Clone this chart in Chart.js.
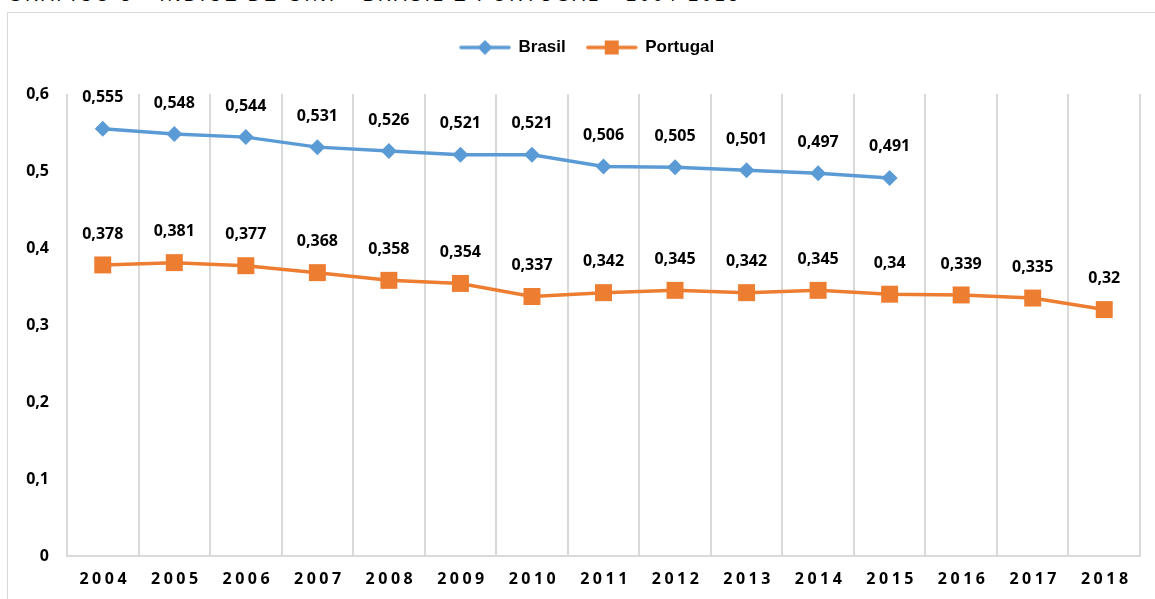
<!DOCTYPE html>
<html>
<head>
<meta charset="utf-8">
<script src="https://cdn.jsdelivr.net/npm/chart.js@4.4.1/dist/chart.umd.min.js"></script>
<style>
  html, body { margin: 0; padding: 0; background: #ffffff; overflow: hidden; }
  #wrap { position: relative; width: 1155px; height: 599px; overflow: hidden; background: #fff; }
  #title { position: absolute; left: 8px; top: -15px; line-height: 20px; font: 18px "Liberation Sans", Arial, sans-serif; letter-spacing: 3.2px; color: #000; white-space: nowrap; }
  #frame { position: absolute; left: 7px; top: 12px; width: 1300px; height: 800px; border: 1.5px solid #d9d9d9; box-sizing: border-box; }
  #c { position: absolute; left: 0; top: 0; }
</style>
</head>
<body>
<div id="wrap">
  <div id="title">GRÁFICO 3 - ÍNDICE DE GINI - BRASIL E PORTUGAL - 2004-2018</div>
  <div id="frame"></div>
  <canvas id="c" width="1155" height="599"></canvas>
</div>
<script>
// ---- data ----
const years = ['2004','2005','2006','2007','2008','2009','2010','2011','2012','2013','2014','2015','2016','2017','2018'];
const brasil = [0.555, 0.548, 0.544, 0.531, 0.526, 0.521, 0.521, 0.506, 0.505, 0.501, 0.497, 0.491, null, null, null];
const portugal = [0.378, 0.381, 0.377, 0.368, 0.358, 0.354, 0.337, 0.342, 0.345, 0.342, 0.345, 0.34, 0.339, 0.335, 0.32];
const seriesNames = ['Brasil', 'Portugal'];
const yMin = 0, yMax = 0.6, yStep = 0.1;

const BLUE = '#5B9BD5';
const ORANGE = '#ED7D31';
const GRID = '#d9d9d9';

function fmt(v) { return String(v).replace('.', ','); }

// legend marker images: line with marker in the middle
function legendImage(color, shape) {
  const cv = document.createElement('canvas');
  cv.width = 52; cv.height = 18;
  const g = cv.getContext('2d');
  g.strokeStyle = color; g.lineWidth = 3.5; g.lineCap = 'round';
  g.beginPath(); g.moveTo(2, 9); g.lineTo(50, 9); g.stroke();
  g.fillStyle = color;
  g.beginPath();
  if (shape === 'diamond') {
    g.moveTo(26, 1.5); g.lineTo(33.5, 9); g.lineTo(26, 16.5); g.lineTo(18.5, 9); g.closePath();
  } else {
    g.rect(19, 2, 14, 14);
  }
  g.fill();
  return cv;
}
const legendImgs = [legendImage(BLUE, 'diamond'), legendImage(ORANGE, 'square')];

// data labels above points
const dataLabels = {
  id: 'dataLabels',
  afterDatasetsDraw(chart) {
    const ctx = chart.ctx;
    ctx.save();
    ctx.font = 'bold 16px "Open Sans", sans-serif';
    ctx.fillStyle = '#000';
    ctx.textAlign = 'center';
    ctx.textBaseline = 'middle';
    chart.data.datasets.forEach((ds, i) => {
      const meta = chart.getDatasetMeta(i);
      meta.data.forEach((pt, j) => {
        const v = ds.data[j];
        if (v === null || v === undefined || pt.skip) return;
        ctx.fillText(fmt(v), pt.x, pt.y - 31);
      });
    });
    ctx.restore();
  }
};

// legend placement + letter-spaced year labels
const tweaks = {
  id: 'tweaks',
  beforeLayout(chart) {
    const lg = chart.legend;
    if (lg && !lg._wrappedFit) {
      const f = lg.fit.bind(lg);
      lg.fit = function () { f(); this.height += 28; };
      lg._wrappedFit = true;
    }
  },
  afterLayout(chart) {
    const lg = chart.legend;
    if (lg) lg.left = 460 - lg.options.labels.padding;
  },
  beforeDraw(chart) {
    const s = chart.scales.x;
    if (s && !s._wrappedLabels) {
      const orig = s.drawLabels.bind(s);
      s.drawLabels = function (a) {
        const c = this.ctx; c.save();
        c.letterSpacing = '3.5px';
        c.translate(2, 0);
        orig(a);
        c.restore();
      };
      s._wrappedLabels = true;
    }
  }
};

new Chart(document.getElementById('c'), {
  type: 'line',
  data: {
    labels: years,
    datasets: [
      {
        label: seriesNames[0], data: brasil,
        borderColor: BLUE, backgroundColor: BLUE, borderWidth: 3.5,
        pointStyle: 'rectRot', pointRadius: 8, pointHoverRadius: 8,
        pointBackgroundColor: BLUE, pointBorderColor: BLUE, pointBorderWidth: 0,
        tension: 0, spanGaps: false
      },
      {
        label: seriesNames[1], data: portugal,
        borderColor: ORANGE, backgroundColor: ORANGE, borderWidth: 3.5,
        pointStyle: 'rect', pointRadius: 12, pointHoverRadius: 12,
        pointBackgroundColor: ORANGE, pointBorderColor: ORANGE, pointBorderWidth: 0,
        tension: 0
      }
    ]
  },
  options: {
    responsive: false,
    animation: false,
    devicePixelRatio: 1,
    layout: { padding: { top: 18, right: 15, bottom: 0, left: 0 } },
    plugins: {
      tooltip: { enabled: false },
      legend: {
        display: true,
        position: 'top',
        align: 'start',
        labels: {
          usePointStyle: true,
          pointStyleWidth: 50,
          padding: 21,
          color: '#000',
          font: { family: '"Liberation Sans", Arial, sans-serif', size: 17, weight: 'bold' },
          generateLabels(chart) {
            const items = Chart.defaults.plugins.legend.labels.generateLabels(chart);
            items.forEach((it, k) => { it.pointStyle = legendImgs[k]; });
            return items;
          }
        }
      }
    },
    scales: {
      x: {
        offset: true,
        grid: { display: true, offset: true, color: GRID, lineWidth: 2, drawTicks: false },
        border: { display: true, color: GRID, width: 2 },
        ticks: {
          color: '#000', padding: 14,
          font: { family: '"Open Sans", sans-serif', size: 16, weight: 'bold' },
          maxRotation: 0, autoSkip: false
        },
        afterFit(s) { s.height = 43; }
      },
      y: {
        min: yMin, max: yMax,
        grid: { display: false, drawTicks: false },
        border: { display: false },
        ticks: {
          stepSize: yStep, color: '#000', padding: 18,
          font: { family: '"Open Sans", sans-serif', size: 16, weight: 'bold' },
          callback(v) { return fmt(Math.round(v * 10) / 10); }
        },
        afterFit(s) { s.width = 67; }
      }
    }
  },
  plugins: [dataLabels, tweaks]
});
</script>
</body>
</html>
